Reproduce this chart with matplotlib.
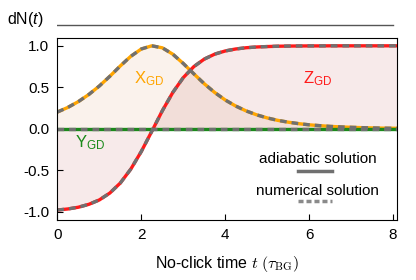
import matplotlib.pyplot as plt
import numpy as np

plt.rcParams['font.family'] = ['Liberation Sans', 'DejaVu Sans']
plt.rcParams['mathtext.fontset'] = 'custom'
plt.rcParams['mathtext.rm'] = 'Liberation Sans'
plt.rcParams['mathtext.it'] = 'Liberation Sans:italic'
plt.rcParams['axes.unicode_minus'] = False

# values
t = [0.0, 0.25, 0.5, 0.75, 1.0, 1.25, 1.5, 1.75, 2.0, 2.25, 2.5, 2.75, 3.0, 3.25,
     3.5, 3.75, 4.0, 4.25, 4.5, 4.75, 5.0, 5.25, 5.5, 5.75, 6.0, 6.25, 6.5, 6.75,
     7.0, 7.25, 7.5, 7.75, 8.0, 8.1]
x_gd = [0.202, 0.258, 0.328, 0.414, 0.516, 0.633, 0.758, 0.874, 0.962, 1.0, 0.976,
        0.899, 0.787, 0.663, 0.543, 0.437, 0.347, 0.274, 0.215, 0.168, 0.131, 0.102,
        0.080, 0.062, 0.048, 0.038, 0.029, 0.023, 0.018, 0.014, 0.011, 0.008, 0.0065, 0.006]
z_gd = [-0.979, -0.966, -0.945, -0.910, -0.857, -0.774, -0.653, -0.485, -0.273, -0.030,
        0.217, 0.438, 0.617, 0.749, 0.840, 0.900, 0.938, 0.962, 0.977, 0.986, 0.991,
        0.995, 0.997, 0.998, 0.999, 0.999, 1.0, 1.0, 1.0, 1.0, 1.0, 1.0, 1.0, 1.0]
y_gd = [0.0] * len(t)
click_t = [0.0, 8.0]
click_dn = [0.0, 0.0]

fig = plt.figure(figsize=(4.16, 2.8), dpi=100)
ax = fig.add_axes([0.138, 0.214, 0.817, 0.652])

ax.fill_between(t, 0, x_gd, color=(0.85, 0.6, 0.4), alpha=0.12, lw=0)
ax.fill_between(t, 0, z_gd, color=(0.7, 0.2, 0.2), alpha=0.1, lw=0)

ax.plot(t, x_gd, color='#ffa500', lw=2.4)
ax.plot(t, z_gd, color='#ff1a1a', lw=2.4)
ax.plot(t, y_gd, color='#1a8a1a', lw=2.4)
for s in (x_gd, z_gd, y_gd):
    ax.plot(t, s, color='#707070', lw=2.4, dashes=(2.0, 1.5))

ax.text(1.83, 0.55, r'X$_{\rm GD}$', color='#ffa500', fontsize=12)
ax.text(5.86, 0.55, r'Z$_{\rm GD}$', color='#ff1a1a', fontsize=12)
ax.text(0.42, -0.22, r'Y$_{\rm GD}$', color='#1a8a1a', fontsize=12)

# legend drawn as text with line below
ax.text(0.765, 0.312, 'adiabatic solution', transform=ax.transAxes, ha='center',
        va='baseline', fontsize=11)
ax.plot([0.709, 0.808], [0.268, 0.268], transform=ax.transAxes, color='#707070', lw=2.5)
ax.text(0.765, 0.137, 'numerical solution', transform=ax.transAxes, ha='center',
        va='baseline', fontsize=11)
ax.plot([0.709, 0.808], [0.104, 0.104], transform=ax.transAxes, color='#8a8a8a', lw=2.5,
        dashes=(1.45, 0.85))

ax.set_xlim(0, 8.1)
ax.set_ylim(-1.1, 1.1)
ax.set_xticks([0, 2, 4, 6, 8])
ax.set_yticks([-1.0, -0.5, 0.0, 0.5, 1.0])
ax.set_yticklabels(['-1.0', '-0.5', '0.0', '0.5', '1.0'])
ax.tick_params(direction='in', length=4, labelsize=11, pad=6)
ax.set_xlabel(r'No-click time $t$ $(\tau_{\rm BG})$', fontsize=11.5, labelpad=8)
ax.xaxis.label.set_math_fontfamily('cm')

top = fig.add_axes([0.138, 0.88, 0.817, 0.06])
top.plot(click_t, click_dn, color='#555555', lw=1)
top.set_xlim(0, 8.1)
top.set_ylim(-1, 1)
top.axis('off')
fig.text(0.062, 0.929, r'dN($\mathit{t}$)', ha='center', va='center', fontsize=11.5)

fig.savefig('out.png', dpi=100)
